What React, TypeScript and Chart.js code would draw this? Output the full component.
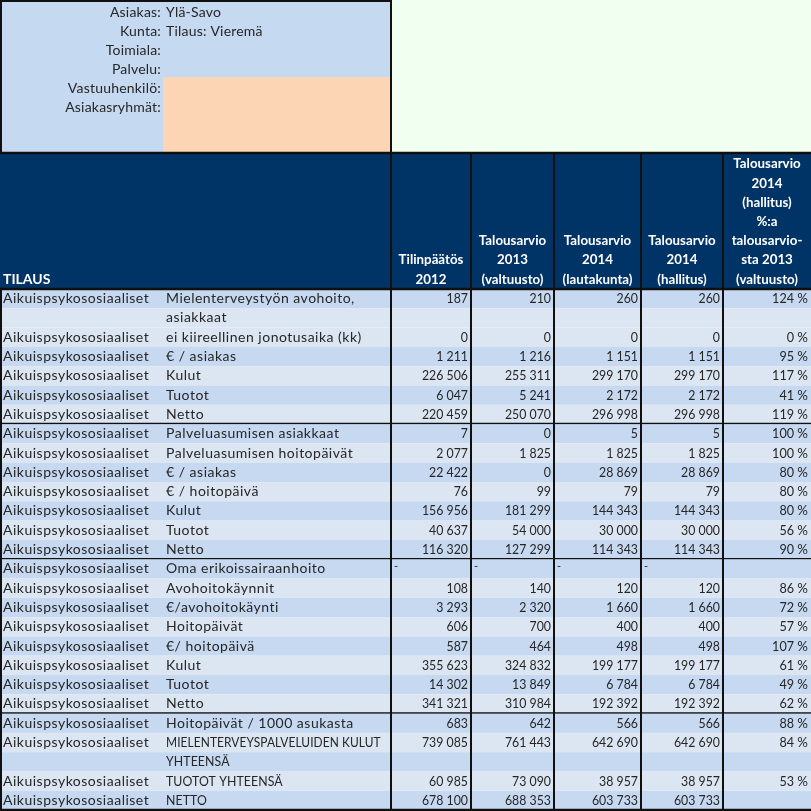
import React, { useEffect, useRef } from "react";
import { Chart, registerables } from "chart.js";

Chart.register(...registerables);

// ---------- DATA ----------
const infoLabels = ["Asiakas:", "Kunta:", "Toimiala:", "Palvelu:", "Vastuuhenkilö:", "Asiakasryhmät:"];
const infoValues = ["Ylä-Savo", "Tilaus: Vieremä", "", "", "", ""];

const firstHeader = "TILAUS";
const columnHeaders: string[][] = [
  ["Tilinpäätös", "2012"],
  ["Talousarvio", "2013", "(valtuusto)"],
  ["Talousarvio", "2014", "(lautakunta)"],
  ["Talousarvio", "2014", "(hallitus)"],
  ["Talousarvio", "2014", "(hallitus)", "%:a", "talousarvio-", "sta 2013", "(valtuusto)"],
];

const groupLabel = "Aikuispsykososiaaliset";
const rowLabels: string[] = [
  "Mielenterveystyön avohoito,\nasiakkaat",
  "ei kiireellinen jonotusaika (kk)",
  "€ / asiakas",
  "Kulut",
  "Tuotot",
  "Netto",
  "Palveluasumisen asiakkaat",
  "Palveluasumisen hoitopäivät",
  "€ / asiakas",
  "€ / hoitopäivä",
  "Kulut",
  "Tuotot",
  "Netto",
  "Oma erikoissairaanhoito",
  "Avohoitokäynnit",
  "€/avohoitokäynti",
  "Hoitopäivät",
  "€/ hoitopäivä",
  "Kulut",
  "Tuotot",
  "Netto",
  "Hoitopäivät / 1000 asukasta",
  "MIELENTERVEYSPALVELUIDEN KULUT\nYHTEENSÄ",
  "TUOTOT YHTEENSÄ",
  "NETTO",
];

type Cell = number | "-" | null;

const tilinpaatos2012: Cell[] = [187, 0, 1211, 226506, 6047, 220459, 7, 2077, 22422, 76, 156956, 40637, 116320, "-", 108, 3293, 606, 587, 355623, 14302, 341321, 683, 739085, 60985, 678100];
const talousarvio2013: Cell[] = [210, 0, 1216, 255311, 5241, 250070, 0, 1825, 0, 99, 181299, 54000, 127299, "-", 140, 2320, 700, 464, 324832, 13849, 310984, 642, 761443, 73090, 688353];
const talousarvio2014Lautakunta: Cell[] = [260, 0, 1151, 299170, 2172, 296998, 5, 1825, 28869, 79, 144343, 30000, 114343, "-", 120, 1660, 400, 498, 199177, 6784, 192392, 566, 642690, 38957, 603733];
const talousarvio2014Hallitus: Cell[] = [260, 0, 1151, 299170, 2172, 296998, 5, 1825, 28869, 79, 144343, 30000, 114343, "-", 120, 1660, 400, 498, 199177, 6784, 192392, 566, 642690, 38957, 603733];
const muutosProsentti: Cell[] = [124, 0, 95, 117, 41, 119, 100, 100, 80, 80, 80, 56, 90, null, 86, 72, 57, 107, 61, 49, 62, 88, 84, 53, null];

const groupEnds = [5, 12, 20, 24];

// ---------- LAYOUT / STYLE ----------
const W = 811;
const colEdges = [0, 163, 391, 471, 554, 641, 723, 811];
const infoBottom = 153;
const headerBottom = 289;
const pitch = 19.3;
// band shading per line of each row (D = darker, L = lighter)
const rowShades = ["DL", "L", "D", "L", "D", "L", "D", "L", "D", "L", "D", "L", "D", "D", "L", "D", "L", "D", "L", "D", "L", "D", "LD", "L", "D"];
const FONT = "Lato, 'Open Sans', sans-serif";
const C = {
  navy: "#003366",
  infoBlue: "#c5d9f1",
  orange: "#fcd5b4",
  green: "#f0fff0",
  stripeDark: "#c6d9f1",
  stripeLight: "#dce6f2",
  text: "#262626",
  line: "#101010",
};

function fmtNum(v: number): string {
  return String(v).replace(/\B(?=(\d{3})+(?!\d))/g, " ");
}

type TextOpts = { spacing?: number; sx?: number; maxWidth?: number };

const tablePlugin = {
  id: "tablePlugin",
  afterDraw(chart: any) {
    const ctx: any = chart.ctx;
    const xs = chart.scales.x;
    const ys = chart.scales.y;
    const px = (v: number) => xs.getPixelForValue(v);
    const py = (v: number) => ys.getPixelForValue(v);
    const rect = (x0: number, y0: number, x1: number, y1: number, color: string) => {
      ctx.fillStyle = color;
      ctx.fillRect(px(x0), py(y0), px(x1) - px(x0), py(y1) - py(y0));
    };
    const hline = (x0: number, x1: number, y: number, w: number) => {
      ctx.strokeStyle = C.line;
      ctx.lineWidth = w;
      ctx.beginPath();
      ctx.moveTo(px(x0), py(y));
      ctx.lineTo(px(x1), py(y));
      ctx.stroke();
    };
    const vline = (x: number, y0: number, y1: number, w: number) => {
      ctx.strokeStyle = C.line;
      ctx.lineWidth = w;
      ctx.beginPath();
      ctx.moveTo(px(x), py(y0));
      ctx.lineTo(px(x), py(y1));
      ctx.stroke();
    };
    const text = (s: string, x: number, y: number, align: CanvasTextAlign, font: string, color: string, o: TextOpts = {}) => {
      ctx.save();
      ctx.font = font;
      ctx.fillStyle = color;
      ctx.textAlign = align;
      ctx.textBaseline = "middle";
      ctx.letterSpacing = (o.spacing || 0) + "px";
      ctx.translate(px(x), py(y));
      ctx.scale(o.sx || 1, 1);
      if (o.maxWidth) ctx.fillText(s, 0, 0, o.maxWidth);
      else ctx.fillText(s, 0, 0);
      ctx.restore();
    };

    const normal = `14px ${FONT}`;
    const bold = `bold 14px ${FONT}`;
    const labelOpts = { spacing: 0.5 };

    // ---- info block ----
    rect(0, 0, colEdges[2], infoBottom, C.infoBlue);
    rect(colEdges[1], 77, colEdges[2], infoBottom, C.orange);
    rect(colEdges[2], 0, W, infoBottom, C.green);
    infoLabels.forEach((lab, i) => {
      const y = 12.7 + i * 19;
      text(lab, 161, y, "right", normal, C.text, { spacing: 0.2 });
      if (infoValues[i]) text(infoValues[i], 166, y, "left", normal, C.text, { spacing: 0.2 });
    });
    hline(0, colEdges[2], 1, 2);
    vline(1, 0, infoBottom, 2);
    vline(colEdges[2], 0, infoBottom, 2);

    // ---- header ----
    rect(0, infoBottom, W, headerBottom, C.navy);
    text(firstHeader, 3, 279, "left", bold, "#ffffff");
    columnHeaders.forEach((lines, ci) => {
      const cx = (colEdges[ci + 2] + colEdges[ci + 3]) / 2;
      const n = lines.length;
      lines.forEach((ln, li) => {
        const y = 279 - (n - 1 - li) * 19.2;
        text(ln, cx, y, "center", bold, "#ffffff", { sx: 0.95 });
      });
    });

    // ---- body ----
    const cols = [tilinpaatos2012, talousarvio2013, talousarvio2014Lautakunta, talousarvio2014Hallitus, muutosProsentti];
    let unit = 0;
    rowLabels.forEach((label, ri) => {
      const lines = label.split("\n");
      const top = headerBottom + unit * pitch;
      for (let k = 0; k < lines.length; k++) {
        const col = rowShades[ri][k] === "D" ? C.stripeDark : C.stripeLight;
        rect(0, top + k * pitch, W, top + (k + 1) * pitch, col);
      }
      const yc = top + pitch / 2;
      text(groupLabel, 3, yc, "left", normal, C.text, labelOpts);
      lines.forEach((ln, li) => {
        const isCaps = ln === ln.toUpperCase();
        text(ln, 166, yc + li * pitch, "left", normal, C.text, isCaps ? { spacing: 0.1, sx: 0.88, maxWidth: 244 } : labelOpts);
      });
      cols.forEach((arr, ci) => {
        const v = arr[ri];
        const right = colEdges[ci + 3] - 3;
        if (v === "-") {
          text("-", colEdges[ci + 2] + 3, yc - 2, "left", `11px ${FONT}`, C.text);
        } else if (v !== null) {
          if (ci === 4) {
            text("%", right, yc, "right", normal, C.text, { sx: 0.95 });
            text(fmtNum(v), right - 14, yc, "right", normal, C.text, { sx: 0.9 });
          } else {
            text(fmtNum(v), right, yc, "right", normal, C.text, { sx: 0.88 });
          }
        }
      });
      unit += lines.length;
      if (groupEnds.includes(ri)) {
        hline(0, W, headerBottom + unit * pitch, 2.5);
      }
    });
    const bodyBottom = headerBottom + unit * pitch;

    // ---- grid lines ----
    hline(0, W, infoBottom, 2.5);
    hline(0, W, headerBottom, 2.5);
    for (let i = 2; i < colEdges.length - 1; i++) vline(colEdges[i], infoBottom, bodyBottom, 2);
    vline(1, headerBottom, bodyBottom, 2);
  },
};

export default function App() {
  const ref = useRef<HTMLCanvasElement | null>(null);
  useEffect(() => {
    document.body.style.margin = "0";
    if (!ref.current) return;
    const chart = new Chart(ref.current, {
      type: "scatter",
      data: { datasets: [{ data: [], pointRadius: 0 }] },
      options: {
        responsive: false,
        animation: false,
        devicePixelRatio: 1,
        layout: { padding: 0 },
        plugins: { legend: { display: false }, tooltip: { enabled: false } },
        scales: {
          x: { type: "linear", min: 0, max: W, display: false },
          y: { type: "linear", min: 0, max: W, reverse: true, display: false },
        },
      },
      plugins: [tablePlugin],
    });
    return () => chart.destroy();
  }, []);
  return <canvas ref={ref} width={W} height={W} style={{ display: "block" }} />;
}
